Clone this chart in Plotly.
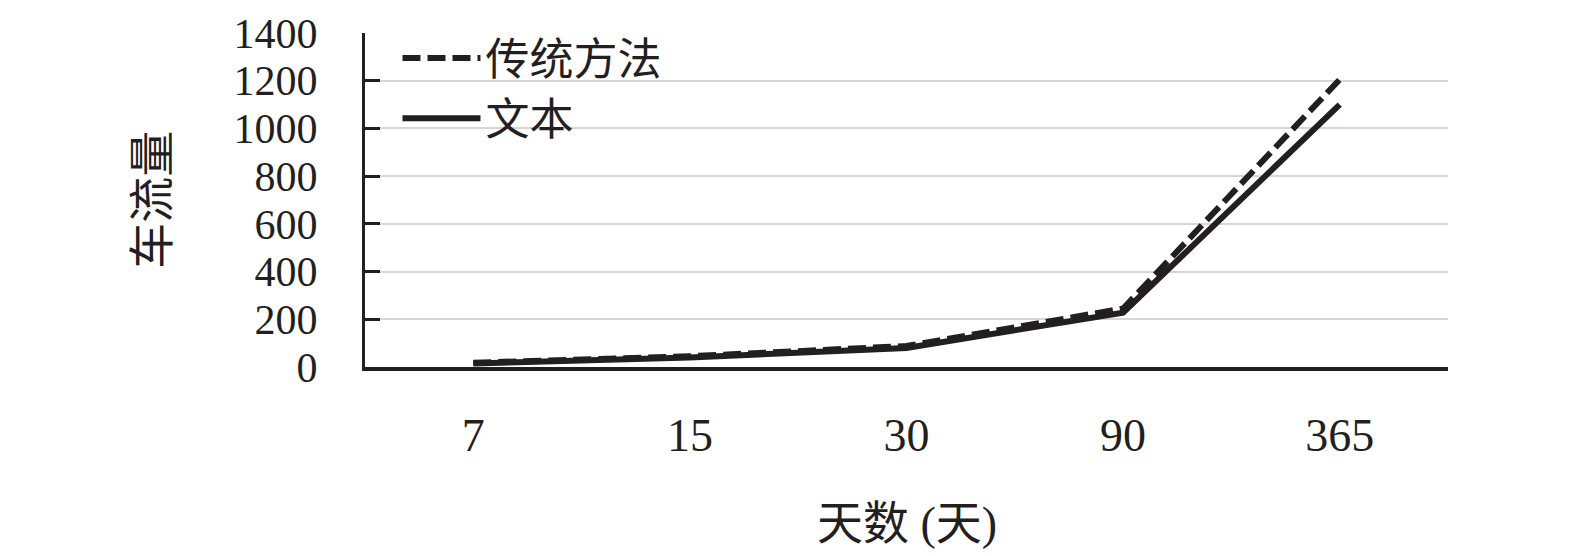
import plotly.graph_objects as go

# days on the x axis (categories)
days = ["7", "15", "30", "90", "365"]
# 车流量 per method
traditional = [18, 45, 88, 245, 1205]
text_method = [15, 40, 80, 228, 1100]
y_ticks = [0, 200, 400, 600, 800, 1000, 1200, 1400]

FONT = "Liberation Serif, Times New Roman, Noto Sans CJK SC"

fig = go.Figure()

fig.add_trace(go.Scatter(
    x=days, y=traditional, name="传统方法", mode="lines",
    line=dict(color="#231f20", width=6, dash="18px,7px"),
))
fig.add_trace(go.Scatter(
    x=days, y=text_method, name="文本", mode="lines",
    line=dict(color="#231f20", width=6),
))

fig.update_layout(
    width=1575, height=556,
    margin=dict(l=357, r=135, t=25, b=197, autoexpand=False),
    paper_bgcolor="white", plot_bgcolor="white",
    font=dict(family=FONT, size=46, color="#231f20"),
    showlegend=True,
    legend=dict(
        x=0.03, y=1.03, xanchor="left", yanchor="top",
        bgcolor="rgba(0,0,0,0)", font=dict(size=44),
        itemwidth=78, tracegroupgap=0,
    ),
    xaxis=dict(
        type="category", range=[-0.5, 4.5], automargin=False,
        showline=True, linecolor="#231f20", linewidth=4,
        ticks="", showgrid=False, zeroline=False,
        ticklabelstandoff=25,
        tickfont=dict(family=FONT, size=46),
    ),
    yaxis=dict(
        range=[0, 1400], tickvals=y_ticks, automargin=False,
        showline=True, linecolor="#231f20", linewidth=3,
        ticks="inside", ticklen=15, tickwidth=3, tickcolor="#231f20",
        showgrid=True, gridcolor="#d6d6d6", gridwidth=2,
        zeroline=False,
        ticklabelstandoff=36,
        tickfont=dict(family=FONT, size=42),
    ),
    annotations=[
        dict(text="车流量", xref="paper", yref="paper", x=-0.197, y=0.5,
             xanchor="center", yanchor="middle", textangle=-90,
             showarrow=False, font=dict(family=FONT, size=46)),
        dict(text="天数 (天)", xref="paper", yref="paper", x=0.5, y=-0.47,
             xanchor="center", yanchor="middle",
             showarrow=False, font=dict(family=FONT, size=46)),
    ],
)

fig.write_html("out.html")
